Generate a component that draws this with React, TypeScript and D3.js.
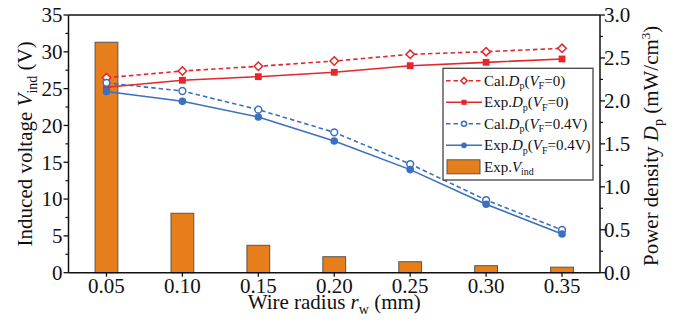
import * as d3 from 'd3';

// wire radius categories (mm)
const radii = ['0.05', '0.10', '0.15', '0.20', '0.25', '0.30', '0.35'];
// induced voltage bars (V)
const vInd = [31.3, 8.07, 3.72, 2.17, 1.49, 0.95, 0.75];
// power density (mW/cm3)
const calDp0 = [2.27, 2.348, 2.403, 2.464, 2.542, 2.573, 2.612];
const expDp0 = [2.158, 2.24, 2.282, 2.333, 2.41, 2.449, 2.488];
const calDp04 = [2.21, 2.115, 1.898, 1.634, 1.265, 0.846, 0.497];
const expDp04 = [2.11, 1.995, 1.813, 1.533, 1.2, 0.796, 0.45];

const leftTicks = [0, 5, 10, 15, 20, 25, 30, 35];
const leftMinor = [2.5, 7.5, 12.5, 17.5, 22.5, 27.5, 32.5];
const rightTicks = [0, 0.5, 1.0, 1.5, 2.0, 2.5, 3.0];
const rightMinor = [0.25, 0.75, 1.25, 1.75, 2.25, 2.75];

const RED = '#e5262b';
const BLUE = '#3a70bd';
const ORANGE = '#e67e1c';
const FONT = '"Liberation Serif", "Times New Roman", serif';

const W = 684;
const H = 322;
const plot = { left: 68.5, right: 600, top: 15, bottom: 272.7 };

export default function App() {
  const x = d3
    .scaleBand<string>()
    .domain(radii)
    .range([plot.left, plot.right])
    .paddingInner(0.7)
    .paddingOuter(0.35);
  const cx = (r: string) => (x(r) || 0) + x.bandwidth() / 2;

  const yL = d3.scaleLinear().domain([0, 35]).range([plot.bottom, plot.top]);
  const yR = d3.scaleLinear().domain([0, 3]).range([plot.bottom, plot.top]);

  const line = d3
    .line<number>()
    .x((_, i) => cx(radii[i]))
    .y((d) => yR(d));

  const series = [
    { name: 'cal0', data: calDp0, color: RED, dash: '4.5,3', marker: 'diamond' },
    { name: 'exp0', data: expDp0, color: RED, dash: null, marker: 'square' },
    { name: 'cal04', data: calDp04, color: BLUE, dash: '4.5,3', marker: 'openCircle' },
    { name: 'exp04', data: expDp04, color: BLUE, dash: null, marker: 'circle' },
  ];

  const marker = (type: string, color: string, px: number, py: number, s: number, key: string) => {
    if (type === 'diamond') {
      const d = s * 1.05;
      return (
        <path
          key={key}
          d={`M${px},${py - d}L${px + d},${py}L${px},${py + d}L${px - d},${py}Z`}
          fill="white"
          stroke={color}
          strokeWidth={1.5}
        />
      );
    }
    if (type === 'square') {
      return <rect key={key} x={px - s * 0.85} y={py - s * 0.85} width={s * 1.7} height={s * 1.7} fill={color} />;
    }
    if (type === 'openCircle') {
      return <circle key={key} cx={px} cy={py} r={s * 0.85} fill="white" stroke={color} strokeWidth={1.5} />;
    }
    return <circle key={key} cx={px} cy={py} r={s * 0.95} fill={color} />;
  };

  const legend = { x: 443, y: 68.3, w: 150, h: 111.7 };
  const legendLabels = [
    { pre: 'Cal.', vf: '=0)' },
    { pre: 'Exp.', vf: '=0)' },
    { pre: 'Cal.', vf: '=0.4V)' },
    { pre: 'Exp.', vf: '=0.4V)' },
  ];
  const rowY = (i: number) => legend.y + 12.5 + i * 21.5;

  return (
    <div style={{ position: 'fixed', left: 0, top: 0 }}>
      <svg width={W} height={H} style={{ display: 'block', background: 'white' }} fontFamily={FONT}>
        {/* bars */}
        {radii.map((r, i) => (
          <rect
            key={r}
            x={x(r)}
            y={yL(vInd[i])}
            width={x.bandwidth()}
            height={plot.bottom - yL(vInd[i])}
            fill={ORANGE}
            stroke="#555"
            strokeWidth={1}
          />
        ))}

        {/* lines */}
        {series.map((s) => (
          <path
            key={s.name}
            d={line(s.data) || ''}
            fill="none"
            stroke={s.color}
            strokeWidth={1.6}
            strokeDasharray={s.dash || undefined}
          />
        ))}
        {series.map((s) =>
          s.data.map((v, i) => marker(s.marker, s.color, cx(radii[i]), yR(v), 4, `${s.name}-${i}`))
        )}

        {/* frame */}
        <line x1={plot.left} x2={plot.right} y1={plot.top} y2={plot.top} stroke="#111" strokeWidth={1.5} />
        <line x1={plot.left} x2={plot.right} y1={plot.bottom} y2={plot.bottom} stroke="#111" strokeWidth={1.5} />
        <line x1={plot.left} x2={plot.left} y1={plot.top} y2={plot.bottom} stroke="#111" strokeWidth={1.5} />
        <line x1={plot.right} x2={plot.right} y1={plot.top} y2={plot.bottom} stroke="#111" strokeWidth={1.5} />

        {/* left axis */}
        {leftTicks.map((t) => (
          <g key={`l${t}`}>
            <line x1={plot.left - 5} x2={plot.left} y1={yL(t)} y2={yL(t)} stroke="#111" strokeWidth={1.3} />
            <text x={plot.left - 6} y={yL(t)} dy="0.35em" textAnchor="end" fontSize={21} fill="#111">
              {t}
            </text>
          </g>
        ))}
        {leftMinor.map((t) => (
          <line key={`lm${t}`} x1={plot.left - 3} x2={plot.left} y1={yL(t)} y2={yL(t)} stroke="#111" strokeWidth={1.2} />
        ))}

        {/* right axis */}
        {rightTicks.map((t) => (
          <g key={`r${t}`}>
            <line x1={plot.right} x2={plot.right + 5} y1={yR(t)} y2={yR(t)} stroke="#111" strokeWidth={1.3} />
            <text x={plot.right + 4} y={yR(t)} dy="0.35em" textAnchor="start" fontSize={21} fill="#111">
              {t.toFixed(1)}
            </text>
          </g>
        ))}
        {rightMinor.map((t) => (
          <line key={`rm${t}`} x1={plot.right} x2={plot.right + 3} y1={yR(t)} y2={yR(t)} stroke="#111" strokeWidth={1.2} />
        ))}

        {/* bottom axis */}
        {radii.map((r) => (
          <g key={`b${r}`}>
            <line x1={cx(r)} x2={cx(r)} y1={plot.bottom} y2={plot.bottom + 4} stroke="#111" strokeWidth={1.3} />
            <text x={cx(r)} y={plot.bottom + 20.5} textAnchor="middle" fontSize={21} fill="#111">
              {r}
            </text>
          </g>
        ))}

        {/* axis titles */}
        <text x={(plot.left + plot.right) / 2} y={309} textAnchor="middle" fontSize={21} fill="#111">
          Wire radius <tspan fontStyle="italic">r</tspan>
          <tspan dy={5} fontSize={14}>w</tspan>
          <tspan dy={-5}> (mm)</tspan>
        </text>
        <text
          transform={`translate(25,${(plot.top + plot.bottom) / 2}) rotate(-90)`}
          textAnchor="middle"
          dy="0.35em"
          fontSize={21}
          fill="#111"
        >
          Induced voltage <tspan fontStyle="italic">V</tspan>
          <tspan dy={5} fontSize={14}>ind</tspan>
          <tspan dy={-5}> (V)</tspan>
        </text>
        <text
          transform={`translate(651,${(plot.top + plot.bottom) / 2 + 2}) rotate(-90)`}
          textAnchor="middle"
          dy="0.35em"
          fontSize={21}
          fill="#111"
        >
          Power density <tspan fontStyle="italic">D</tspan>
          <tspan dy={5} fontSize={14}>p</tspan>
          <tspan dy={-5}> (mW/cm</tspan>
          <tspan dy={-8} fontSize={13}>3</tspan>
          <tspan dy={8}>)</tspan>
        </text>

        {/* legend */}
        <rect x={legend.x} y={legend.y} width={legend.w} height={legend.h} fill="white" stroke="#444" strokeWidth={1.3} />
        {series.map((s, i) => {
          const ly = rowY(i);
          return (
            <g key={`lg${s.name}`}>
              <line
                x1={legend.x + 3}
                x2={legend.x + 39}
                y1={ly}
                y2={ly}
                stroke={s.color}
                strokeWidth={1.6}
                strokeDasharray={s.dash || undefined}
              />
              {marker(s.marker, s.color, legend.x + 21, ly, 3, `lgm${i}`)}
              <text x={legend.x + 41} y={ly} dy="0.33em" fontSize={15} fill="#111">
                {legendLabels[i].pre}
                <tspan fontStyle="italic">D</tspan>
                <tspan dy={3.5} fontSize={10}>p</tspan>
                <tspan dy={-3.5}>(</tspan>
                <tspan fontStyle="italic">V</tspan>
                <tspan dy={3.5} fontSize={10}>F</tspan>
                <tspan dy={-3.5}>{legendLabels[i].vf}</tspan>
              </text>
            </g>
          );
        })}
        <rect x={legend.x + 4} y={rowY(4) - 7} width={33} height={14} fill={ORANGE} stroke="#555" strokeWidth={1} />
        <text x={legend.x + 41} y={rowY(4)} dy="0.33em" fontSize={15} fill="#111">
          Exp.<tspan fontStyle="italic">V</tspan>
          <tspan dy={3.5} fontSize={10}>ind</tspan>
        </text>
      </svg>
    </div>
  );
}
